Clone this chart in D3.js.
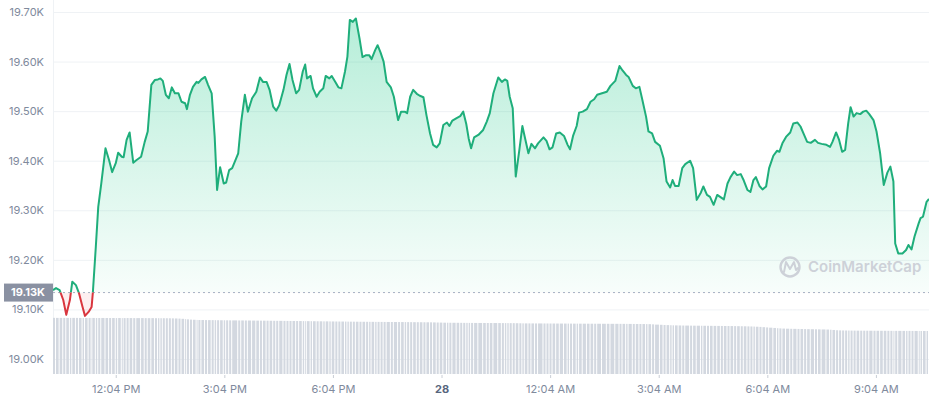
<!DOCTYPE html>
<html>
<head>
<meta charset="utf-8">
<script src="https://cdn.jsdelivr.net/npm/d3@7"></script>
<style>
  html, body { margin: 0; padding: 0; background: #ffffff; }
  svg { display: block; font-family: Inter, "Noto Sans", sans-serif; }
</style>
</head>
<body>
<script>
// ---------------- DATA ----------------
const times = [
"27 10:20","27 10:25","27 10:31","27 10:37","27 10:42","27 10:48","27 10:52","27 10:58","27 11:03","27 11:09",
"27 11:13","27 11:19","27 11:24","27 11:26","27 11:31","27 11:35","27 11:40","27 11:47","27 11:53","27 11:58",
"27 12:04","27 12:08","27 12:14","27 12:17","27 12:22","27 12:27","27 12:33","27 12:38","27 12:46","27 12:52",
"27 12:57","27 13:03","27 13:09","27 13:14","27 13:18","27 13:22","27 13:27","27 13:32","27 13:37","27 13:42",
"27 13:48","27 13:53","27 13:59","27 14:02","27 14:07","27 14:12","27 14:18","27 14:21","27 14:26","27 14:32",
"27 14:37","27 14:43","27 14:48","27 14:52","27 14:57","27 15:03","27 15:07","27 15:12","27 15:17","27 15:27",
"27 15:32","27 15:38","27 15:43","27 15:50","27 15:57","27 16:03","27 16:08","27 16:14","27 16:19","27 16:25",
"27 16:30","27 16:35","27 16:42","27 16:47","27 16:52","27 16:57","27 17:03","27 17:08","27 17:14","27 17:18",
"27 17:21","27 17:27","27 17:31","27 17:37","27 17:42","27 17:48","27 17:52","27 17:58","27 18:02","27 18:08",
"27 18:13","27 18:18","27 18:24","27 18:28","27 18:32","27 18:37","27 18:42","27 18:48","27 18:53","27 18:59",
"27 19:04","27 19:08","27 19:14","27 19:18","27 19:23","27 19:28","27 19:33","27 19:40","27 19:45","27 19:52",
"27 19:57","27 20:03","27 20:07","27 20:12","27 20:17","27 20:23","27 20:28","27 20:34","27 20:39","27 20:45",
"27 20:50","27 20:56","27 21:01","27 21:07","27 21:13","27 21:17","27 21:22","27 21:29","27 21:35","27 21:40",
"27 21:45","27 21:49","27 21:53","27 21:58","27 22:05","27 22:13","27 22:19","27 22:24","27 22:30","27 22:38",
"27 22:44","27 22:49","27 22:53","27 22:57","27 23:02","27 23:07","27 23:13","27 23:18","27 23:22","27 23:28",
"27 23:33","27 23:39","27 23:44","27 23:53","27 23:58","28 00:03","28 00:08","28 00:14","28 00:20","28 00:27",
"28 00:33","28 00:37","28 00:42","28 00:48","28 00:52","28 00:58","28 01:05","28 01:11","28 01:17","28 01:22",
"28 01:30","28 01:38","28 01:44","28 01:52","28 01:59","28 02:04","28 02:10","28 02:14","28 02:21","28 02:26",
"28 02:32","28 02:37","28 02:43","28 02:47","28 02:53","28 02:58","28 03:06","28 03:12","28 03:17","28 03:23",
"28 03:27","28 03:31","28 03:37","28 03:43","28 03:48","28 03:56","28 04:01","28 04:07","28 04:14","28 04:18",
"28 04:24","28 04:29","28 04:35","28 04:41","28 04:47","28 04:52","28 04:58","28 05:03","28 05:09","28 05:14",
"28 05:20","28 05:25","28 05:31","28 05:36","28 05:41","28 05:45","28 05:51","28 05:56","28 06:02","28 06:07",
"28 06:14","28 06:20","28 06:24","28 06:29","28 06:35","28 06:42","28 06:47","28 06:54","28 06:59","28 07:05",
"28 07:10","28 07:16","28 07:23","28 07:28","28 07:34","28 07:42","28 07:48","28 07:52","28 07:58","28 08:03",
"28 08:08","28 08:13","28 08:18","28 08:22","28 08:27","28 08:32","28 08:38","28 08:43","28 08:48","28 08:53",
"28 09:00","28 09:05","28 09:11","28 09:17","28 09:23","28 09:28","28 09:33","28 09:36","28 09:41","28 09:48",
"28 09:54","28 09:58","28 10:03","28 10:08","28 10:15","28 10:18","28 10:22","28 10:28","28 10:32"
];

const prices = [
19139,19143,19139,19119,19089,19119,19156,19149,19133,19105,
19087,19095,19105,19133,19227,19307,19354,19425,19401,19377,
19395,19416,19408,19407,19442,19457,19396,19401,19408,19438,
19459,19553,19563,19564,19566,19561,19533,19526,19548,19536,
19536,19519,19516,19504,19533,19549,19559,19557,19564,19569,
19553,19536,19448,19341,19387,19354,19356,19381,19385,19415,
19479,19533,19499,19526,19539,19568,19559,19559,19543,19509,
19501,19512,19543,19573,19595,19563,19536,19543,19580,19594,
19566,19571,19546,19529,19539,19546,19571,19566,19571,19559,
19548,19546,19580,19610,19684,19680,19687,19647,19609,19613,
19613,19605,19623,19633,19618,19600,19559,19548,19529,19482,
19499,19499,19496,19529,19543,19535,19531,19528,19492,19455,
19432,19427,19435,19472,19477,19470,19481,19486,19490,19499,
19474,19445,19425,19447,19452,19462,19479,19496,19536,19568,
19559,19564,19561,19529,19506,19368,19422,19470,19448,19415,
19434,19425,19435,19447,19440,19423,19427,19455,19457,19450,
19432,19423,19450,19470,19497,19499,19504,19519,19524,19533,
19536,19539,19551,19561,19591,19582,19573,19569,19551,19546,
19549,19522,19489,19459,19455,19438,19430,19405,19358,19346,
19361,19349,19349,19385,19393,19400,19385,19321,19336,19348,
19331,19327,19311,19331,19326,19322,19354,19367,19378,19371,
19373,19360,19341,19337,19361,19367,19349,19342,19348,19385,
19410,19420,19418,19435,19448,19457,19475,19477,19469,19452,
19438,19436,19442,19436,19434,19432,19428,19438,19457,19442,
19418,19422,19475,19508,19489,19496,19494,19499,19501,19494,
19482,19459,19415,19351,19376,19388,19358,19233,19213,19213,
19220,19230,19221,19247,19274,19284,19287,19317,19323
];

// 24h volume (billions USD)
const volumes = [
31.95,31.93,31.94,31.92,31.90,31.91,31.93,31.92,31.90,31.89,
31.88,31.90,31.91,31.89,31.87,31.86,31.88,31.87,31.85,31.86,
31.84,31.85,31.83,31.82,31.84,31.83,31.81,31.80,31.82,31.80,
31.78,31.79,31.77,31.76,31.75,31.74,31.72,31.70,31.66,31.60,
31.52,31.40,31.25,31.10,30.95,30.85,30.78,30.72,30.70,30.68,
30.66,30.65,30.63,30.60,30.58,30.57,30.55,30.52,30.50,30.48,
30.47,30.45,30.43,30.40,30.38,30.36,30.35,30.33,30.30,30.28,
30.26,30.25,30.22,30.20,30.18,30.17,30.15,30.12,30.10,30.08,
30.06,30.05,30.03,30.00,29.98,29.96,29.95,29.93,29.90,29.88,
29.86,29.85,29.83,29.80,29.78,29.77,29.75,29.73,29.72,29.70,
29.69,29.68,29.66,29.65,29.63,29.62,29.60,29.59,29.58,29.56,
29.55,29.54,29.52,29.50,29.48,29.47,29.45,29.43,29.42,29.40,
29.35,29.30,29.25,29.20,29.18,29.16,29.15,29.13,29.12,29.10,
29.09,29.08,29.06,29.05,29.04,29.03,29.02,29.00,28.99,28.98,
28.97,28.96,28.95,28.94,28.93,28.90,28.86,28.82,28.80,28.79,
28.78,28.77,28.76,28.75,28.74,28.73,28.72,28.71,28.70,28.69,
28.68,28.67,28.66,28.65,28.64,28.63,28.62,28.61,28.60,28.59,
28.58,28.57,28.56,28.55,28.54,28.53,28.52,28.50,28.48,28.46,
28.44,28.42,28.40,28.35,28.25,28.10,28.00,27.90,27.82,27.75,
27.70,27.66,27.62,27.58,27.55,27.52,27.50,27.48,27.46,27.44,
27.42,27.40,27.38,27.36,27.34,27.32,27.30,27.28,27.25,27.22,
27.18,27.14,27.10,27.05,27.00,26.90,26.80,26.65,26.50,26.35,
26.20,26.05,25.95,25.85,25.78,25.72,25.68,25.64,25.60,25.56,
25.52,25.48,25.44,25.40,25.35,25.30,25.20,25.05,24.90,24.82,
24.78,24.75,24.72,24.70,24.68,24.66,24.65,24.64,24.63,24.62,
24.61,24.60,24.59,24.58,24.57,24.56,24.55,24.55,24.54,24.53,
24.52,24.52,24.51,24.50,24.50,24.49,24.48,24.48,24.47
];

const yTicks = [19000, 19100, 19200, 19300, 19400, 19500, 19600, 19700];
const xTickTimes = ["27 12:04","27 15:04","27 18:04","27 21:04","28 00:04","28 03:04","28 06:04","28 09:04"];
const xTickLabels = ["12:04 PM","3:04 PM","6:04 PM","28","12:04 AM","3:04 AM","6:04 AM","9:04 AM"];
const xDomain = ["27 10:20","28 10:32"];
const baseValue = 19134;
const baseLabel = "19.13K";
const volumeMax = 33;

// ---------------- CHART ----------------
(function () {
const W = 929, H = 400;
const mL = 53, mR = 929, mT = 12, mB = 359, volBottom = 374, volTop = 316;
const parse = d3.timeParse("%d %H:%M");
const data = times.map((t, i) => ({ t: parse(t), p: prices[i], v: volumes[i] }));

const x = d3.scaleTime().domain(xDomain.map(parse)).range([mL, mR]);
const y = d3.scaleLinear().domain([19000, 19700]).range([mB, mT]);
const yv = d3.scaleLinear().domain([0, volumeMax]).range([volBottom, volTop]);

const svg = d3.select("body").append("svg").attr("width", W).attr("height", H);
const defs = svg.append("defs");

const yb = y(baseValue);
const grad = defs.append("linearGradient").attr("id", "gfill")
  .attr("gradientUnits", "userSpaceOnUse")
  .attr("x1", 0).attr("x2", 0).attr("y1", y(19700)).attr("y2", yb);
grad.append("stop").attr("offset", "0%").attr("stop-color", "#16c784").attr("stop-opacity", 0.32);
grad.append("stop").attr("offset", "100%").attr("stop-color", "#16c784").attr("stop-opacity", 0.03);

defs.append("clipPath").attr("id", "above").append("rect")
  .attr("x", 0).attr("y", 0).attr("width", W).attr("height", yb);
defs.append("clipPath").attr("id", "below").append("rect")
  .attr("x", 0).attr("y", yb).attr("width", W).attr("height", H - yb);

// gridlines
const gridAxis = d3.axisLeft(y).tickValues(yTicks).tickSize(-(mR - mL)).tickFormat("");
const grid = svg.append("g").attr("transform", `translate(${mL},0)`).call(gridAxis);
grid.select(".domain").remove();
grid.selectAll("line").attr("stroke", "#eff2f5").attr("stroke-width", 1);

// left vertical line
svg.append("line").attr("x1", mL + 0.5).attr("x2", mL + 0.5).attr("y1", 0).attr("y2", volBottom)
  .attr("stroke", "#eff2f5");

// y labels
const yAxis = d3.axisLeft(y).tickValues(yTicks).tickSize(0).tickPadding(9)
  .tickFormat(d => d3.format(".2f")(d / 1000) + "K");
const ya = svg.append("g").attr("transform", `translate(${mL},0)`).call(yAxis);
ya.select(".domain").remove();
ya.selectAll("text").attr("fill", "#808a9d").attr("font-size", 11)
  .attr("font-family", "Inter, sans-serif");

// volume bars
svg.append("g").selectAll("rect").data(data).join("rect")
  .attr("x", d => x(d.t))
  .attr("width", (d, i) => {
    const nx = i < data.length - 1 ? x(data[i + 1].t) : mR;
    return Math.max(1, nx - x(d.t) - 1);
  })
  .attr("y", d => yv(d.v))
  .attr("height", d => volBottom - yv(d.v))
  .attr("fill", "#d3d8e0");

// area fills
const area = d3.area().x(d => x(d.t)).y0(yb).y1(d => y(d.p));
svg.append("path").datum(data).attr("d", area).attr("fill", "url(#gfill)").attr("clip-path", "url(#above)");
svg.append("path").datum(data).attr("d", area).attr("fill", "#ea3943").attr("fill-opacity", 0.08)
  .attr("clip-path", "url(#below)");

// baseline dotted
svg.append("line").attr("x1", mL).attr("x2", mR).attr("y1", yb).attr("y2", yb)
  .attr("stroke", "#a6b0c3").attr("stroke-width", 1).attr("stroke-dasharray", "2,3");

// lines
const line = d3.line().x(d => x(d.t)).y(d => y(d.p));
svg.append("path").datum(data).attr("d", line).attr("fill", "none")
  .attr("stroke", "#1fae7b").attr("stroke-width", 2).attr("stroke-linejoin", "round")
  .attr("clip-path", "url(#above)");
svg.append("path").datum(data).attr("d", line).attr("fill", "none")
  .attr("stroke", "#d9363e").attr("stroke-width", 2).attr("stroke-linejoin", "round")
  .attr("clip-path", "url(#below)");

// base label
svg.append("rect").attr("x", 4).attr("y", yb - 9).attr("width", mL - 4).attr("height", 18)
  .attr("fill", "#8a91a2");
svg.append("text").attr("x", 45).attr("y", yb).attr("dy", "0.35em").attr("text-anchor", "end")
  .attr("fill", "#ffffff").attr("font-size", 11).attr("font-weight", 700).text(baseLabel);

// x axis
const xAxis = d3.axisBottom(x).tickValues(xTickTimes.map(parse)).tickSize(3).tickPadding(7)
  .tickFormat((d, i) => xTickLabels[i]);
const xa = svg.append("g").attr("transform", `translate(0,${volBottom + 1})`).call(xAxis);
xa.select(".domain").remove();
xa.selectAll("line").attr("stroke", "#c9ced6");
xa.selectAll("text").attr("font-size", 11)
  .attr("font-family", "Inter, sans-serif")
  .attr("font-weight", (d, i) => xTickLabels[i] === "28" ? 700 : 400)
  .attr("fill", (d, i) => xTickLabels[i] === "28" ? "#58667e" : "#808a9d");

// watermark
const wm = svg.append("g");
wm.append("circle").attr("cx", 790).attr("cy", 267).attr("r", 9.5)
  .attr("fill", "none").attr("stroke", "#cdd1d8").attr("stroke-width", 2.4);
wm.append("path").attr("d", "M784,272 L786,262 L790,269 L794,262 L796,270 L798,268")
  .attr("fill", "none").attr("stroke", "#cdd1d8").attr("stroke-width", 2).attr("stroke-linejoin", "round")
  .attr("stroke-linecap", "round");
wm.append("text").attr("x", 808).attr("y", 267).attr("dy", "0.35em")
  .attr("font-size", 15).attr("font-weight", 600).attr("fill", "#cdd1d8")
  .attr("font-family", "Inter, sans-serif").text("CoinMarketCap");
})();
</script>
</body>
</html>
